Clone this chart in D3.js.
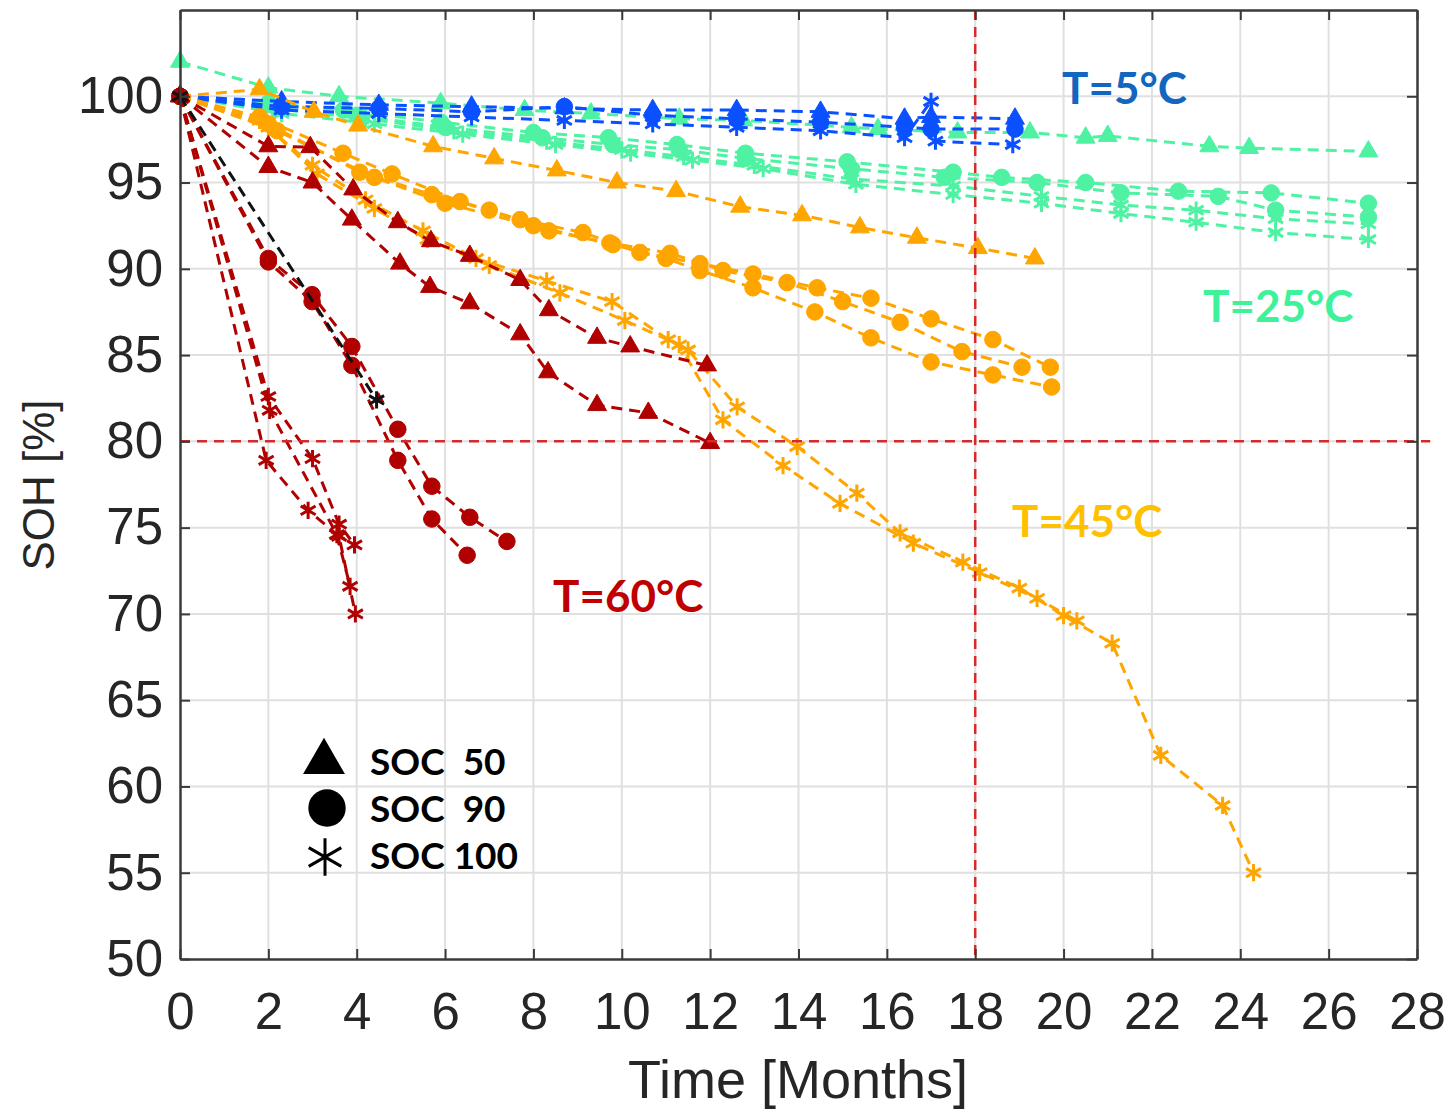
<!DOCTYPE html>
<html><head><meta charset="utf-8">
<script src="https://cdn.jsdelivr.net/npm/d3@7"></script>
<style>body{margin:0;background:#fff}svg{display:block}</style>
</head><body>
<svg id="c" width="1452" height="1113"></svg>
<script>
// ---------- DATA ----------
const xTicks = [0,2,4,6,8,10,12,14,16,18,20,22,24,26,28];
const yTicks = [50,55,60,65,70,75,80,85,90,95,100];

// T = 60 °C
const t60s50a = [[0,100],[2.0,97.1],[2.95,97.05],[3.92,94.6],[4.93,92.7],[5.68,91.6],[6.56,90.75],[7.7,89.35],[8.35,87.6],[9.44,86.0],[10.19,85.5],[11.93,84.4]];
const t60s50b = [[0,100],[2.0,95.9],[3.0,95.0],[3.89,92.85],[4.98,90.3],[5.66,88.95],[6.56,88.0],[7.7,86.2],[8.33,84.0],[9.44,82.1],[10.6,81.65],[12.0,79.9]];
const t60s90a = [[0,100],[2.0,90.6],[2.99,88.5],[3.89,85.5],[4.93,80.7],[5.7,77.4],[6.56,75.6],[7.4,74.2]];
const t60s90b = [[0,100],[2.0,90.4],[2.99,88.1],[3.89,84.4],[4.93,78.9],[5.7,75.5],[6.5,73.4]];
const t60s100a = [[0,100],[2.0,82.6],[3.0,79.0],[3.6,75.2],[3.95,74.0]];
const t60s100b = [[0,100],[2.03,81.8],[3.55,74.6],[3.85,71.6]];
const t60s100c = [[0,100],[1.95,78.9],[2.9,76.0],[3.6,74.5],[3.97,70.0]];
const t60fit = [[0,100],[4.45,82.4]];

// T = 45 °C
const t45s50 = [[0,100],[1.8,100.4],[3.03,99.1],[4.03,98.3],[5.73,97.1],[7.11,96.4],[8.53,95.7],[9.89,95.0],[11.23,94.5],[12.68,93.6],[14.08,93.1],[15.39,92.4],[16.68,91.8],[18.06,91.2],[19.35,90.6]];
const t45s90a = [[0,100],[1.8,98.8],[3.69,96.7],[4.8,95.5],[6.34,93.9],[7.7,92.85],[9.12,92.1],[10.41,90.95],[11.77,90.3],[12.97,89.7],[14.42,88.9],[15.64,88.3],[17.0,87.1],[18.4,85.9],[19.7,84.3]];
const t45s90b = [[0,100],[2.0,98.4],[4.07,95.6],[5.7,94.3],[7.0,93.4],[8.35,92.2],[9.73,91.5],[11.09,90.9],[12.29,89.9],[13.74,89.2],[15.0,88.1],[16.3,86.9],[17.7,85.2],[19.06,84.3]];
const t45s90c = [[0,100],[2.2,98.0],[4.4,95.3],[6.0,93.8],[8.0,92.5],[9.8,91.4],[11.0,90.6],[11.77,89.9],[12.97,88.9],[14.37,87.5],[15.64,86.0],[17.0,84.6],[18.4,83.85],[19.73,83.15]];
const t45s100a = [[0,100],[1.8,98.6],[3.0,96.0],[4.2,94.0],[5.5,92.2],[6.7,90.6],[8.3,89.3],[9.78,88.1],[11.05,85.9],[11.5,85.3],[12.61,82.0],[13.97,79.7],[15.32,77.0],[16.3,74.7],[17.72,73.0],[19.0,71.5],[20.0,69.9],[21.1,68.3],[22.2,61.8],[23.6,58.9],[24.3,55.0]];
const t45s100b = [[0,100],[2.0,98.2],[3.1,95.5],[4.4,93.5],[5.6,91.7],[7.0,90.2],[8.6,88.6],[10.07,87.0],[11.3,85.6],[12.29,81.25],[13.65,78.6],[14.94,76.4],[16.6,74.1],[18.1,72.4],[19.4,70.9],[20.3,69.6]];

// T = 25 °C
const t25s50 = [[0,102],[2.0,100.5],[3.6,100.0],[5.9,99.6],[7.8,99.2],[9.3,99.0],[11.3,98.7],[12.75,98.6],[15.2,98.2],[15.8,98.1],[17.6,97.9],[19.24,97.9],[20.5,97.6],[21.0,97.7],[23.3,97.1],[24.2,97.0],[26.9,96.8]];
const t25s90a = [[0,100],[2.0,99.6],[3.7,99.2],[5.9,98.5],[8.0,97.9],[9.7,97.6],[11.25,97.2],[12.8,96.7],[15.1,96.2],[17.5,95.6],[18.6,95.3],[20.5,95.0],[22.6,94.5],[24.7,94.4],[26.9,93.8]];
const t25s90b = [[0,100],[2.2,99.3],[4.0,98.9],[6.0,98.2],[8.2,97.6],[9.8,97.2],[11.3,96.9],[12.8,96.4],[15.2,95.8],[17.3,95.3],[19.4,95.0],[21.3,94.4],[23.5,94.2],[24.8,93.4],[26.9,93.0]];
const t25s100a = [[0,100],[2.1,99.3],[4.2,98.7],[6.2,98.0],[8.3,97.4],[10.0,96.9],[11.4,96.5],[13.0,96.0],[15.2,95.2],[17.5,94.8],[19.5,94.2],[21.3,93.7],[23.0,93.4],[24.8,92.9],[26.9,92.6]];
const t25s100b = [[0,100],[2.3,99.0],[4.4,98.4],[6.4,97.8],[8.5,97.2],[10.2,96.7],[11.6,96.3],[13.2,95.8],[15.3,94.9],[17.5,94.3],[19.5,93.8],[21.3,93.2],[23.0,92.7],[24.8,92.1],[26.9,91.7]];

// T = 5 °C
const t5s50 = [[0,100],[2.3,99.7],[4.5,99.5],[6.6,99.4],[8.7,99.3],[10.7,99.2],[12.6,99.2],[14.5,99.1],[16.4,98.7],[17.0,98.8],[18.9,98.7]];
const t5s90 = [[0,100],[2.3,99.4],[4.5,99.3],[6.6,99.1],[8.7,99.4],[10.7,98.9],[12.6,98.7],[14.5,98.5],[16.4,98.2],[17.0,98.1],[18.9,98.1]];
const t5s100 = [[0,100],[2.3,99.2],[4.5,99.0],[6.6,98.8],[8.7,98.6],[10.7,98.4],[12.6,98.2],[14.5,98.0],[16.4,97.6],[17.0,99.7],[17.1,97.4],[18.85,97.2]];

const refSOH = 80;
const refMonth = 18;
const legendLabels = ["SOC  50","SOC  90","SOC 100"];
const tempLabels = ["T=5°C","T=25°C","T=45°C","T=60°C"];

// ---------- STYLE ----------
const C = {blue:"#0a50ff", green:"#4ef2a2", orange:"#ffa500", red:"#b00000", black:"#111111"};
const series = [
  {d:t25s50,c:C.green,m:"tri"},{d:t25s90a,c:C.green,m:"circ"},{d:t25s90b,c:C.green,m:"circ"},
  {d:t25s100a,c:C.green,m:"ast"},{d:t25s100b,c:C.green,m:"ast"},
  {d:t5s100,c:C.blue,m:"ast"},{d:t5s90,c:C.blue,m:"circ"},{d:t5s50,c:C.blue,m:"tri"},
  {d:t45s50,c:C.orange,m:"tri"},{d:t45s90a,c:C.orange,m:"circ"},{d:t45s90b,c:C.orange,m:"circ"},{d:t45s90c,c:C.orange,m:"circ"},
  {d:t45s100a,c:C.orange,m:"ast"},{d:t45s100b,c:C.orange,m:"ast"},
  {d:t60s50a,c:C.red,m:"tri"},{d:t60s50b,c:C.red,m:"tri"},{d:t60s90a,c:C.red,m:"circ"},{d:t60s90b,c:C.red,m:"circ"},
  {d:t60s100a,c:C.red,m:"ast"},{d:t60s100b,c:C.red,m:"ast"},{d:t60s100c,c:C.red,m:"ast"},
  {d:t60fit,c:C.black,m:"ast"}
];

const L=180,T=10,R=1417,B=959;
const x=d3.scaleLinear().domain([0,28]).range([L,R]);
const y=d3.scaleLinear().domain([50,105]).range([B,T]);
const svg=d3.select("#c");
const tickFont="'Liberation Sans', Arial, sans-serif";
const axisCol="#3a3a3a";

// grid
const grid=svg.append("g");
grid.selectAll("line.v").data(xTicks.slice(1,-1)).join("line")
  .attr("x1",d=>x(d)).attr("x2",d=>x(d)).attr("y1",T).attr("y2",B)
  .attr("stroke","#e0e0e0").attr("stroke-width",2);
grid.selectAll("line.h").data(yTicks.slice(1)).join("line")
  .attr("x1",L).attr("x2",R).attr("y1",d=>y(d)).attr("y2",d=>y(d))
  .attr("stroke","#e0e0e0").attr("stroke-width",2);

// data
const line=d3.line().x(d=>x(d[0])).y(d=>y(d[1]));
const symT=d3.symbol().type(d3.symbolTriangle).size(155);
const symC=d3.symbol().type(d3.symbolCircle).size(215);
const symA=d3.symbol().type(d3.symbolAsterisk).size(210);
const gData=svg.append("g");
series.forEach(s=>{
  const g=gData.append("g");
  g.append("path").attr("d",line(s.d)).attr("fill","none").attr("stroke",s.c)
   .attr("stroke-width",3).attr("stroke-dasharray","11,7");
  g.selectAll("path.mk").data(s.d).join("path").attr("class","mk")
   .attr("transform",d=>`translate(${x(d[0])},${y(d[1])})`)
   .attr("d",s.m==="tri"?symT():s.m==="circ"?symC():symA())
   .attr("fill",s.m==="ast"?"none":s.c)
   .attr("stroke",s.c).attr("stroke-width",s.m==="ast"?3:1);
});

// reference lines
svg.append("line").attr("x1",x(0)).attr("x2",x(28.3)).attr("y1",y(refSOH)).attr("y2",y(refSOH))
  .attr("stroke","#d42a2a").attr("stroke-width",2.5).attr("stroke-dasharray","10,7");
svg.append("line").attr("x1",x(refMonth)).attr("x2",x(refMonth)).attr("y1",y(105)).attr("y2",y(50))
  .attr("stroke","#d42a2a").attr("stroke-width",2.5).attr("stroke-dasharray","10,7");

// axes
const ax=svg.append("g").attr("transform",`translate(0,${B})`)
  .call(d3.axisBottom(x).tickValues(xTicks).tickSizeInner(-10).tickSizeOuter(0).tickPadding(34));
const ay=svg.append("g").attr("transform",`translate(${L},0)`)
  .call(d3.axisLeft(y).tickValues(yTicks).tickSizeInner(-10).tickSizeOuter(0).tickPadding(17));
const axT=svg.append("g").attr("transform",`translate(0,${T})`)
  .call(d3.axisTop(x).tickValues(xTicks).tickSizeInner(-10).tickSizeOuter(0).tickFormat(""));
const ayR=svg.append("g").attr("transform",`translate(${R},0)`)
  .call(d3.axisRight(y).tickValues(yTicks).tickSizeInner(-10).tickSizeOuter(0).tickFormat(""));
[ax,ay,axT,ayR].forEach(a=>{
  a.select(".domain").attr("stroke",axisCol).attr("stroke-width",2.5);
  a.selectAll(".tick line").attr("stroke",axisCol).attr("stroke-width",2);
  a.selectAll("text").attr("font-family",tickFont).attr("font-size",51).attr("fill","#262626");
});
ax.selectAll("text").attr("dy","0.71em");

svg.append("text").attr("x",798).attr("y",1098).attr("text-anchor","middle")
  .attr("font-family",tickFont).attr("font-size",54).attr("fill","#262626").text("Time [Months]");
svg.append("text").attr("transform","translate(54,485) rotate(-90)").attr("text-anchor","middle")
  .attr("font-family",tickFont).attr("font-size",44).attr("fill","#262626").text("SOH [%]");

// temperature labels
const lblFont="Lato, 'Open Sans', sans-serif";
const tl=[{t:tempLabels[0],x:1062,y:104,c:"#1366bf"},{t:tempLabels[1],x:1203,y:322,c:"#3ef29a"},
          {t:tempLabels[2],x:1012,y:537,c:"#ffc000"},{t:tempLabels[3],x:553,y:612,c:"#c00000"}];
svg.selectAll("text.tl").data(tl).join("text").attr("class","tl")
  .attr("x",d=>d.x).attr("y",d=>d.y).attr("fill",d=>d.c)
  .attr("font-family",lblFont).attr("font-weight","bold").attr("font-size",44).text(d=>d.t);

// legend
const lg=svg.append("g");
lg.append("path").attr("transform","translate(324,762)").attr("d",d3.symbol().type(d3.symbolTriangle).size(760)()).attr("fill","#000");
lg.append("path").attr("transform","translate(327,808)").attr("d",d3.symbol().type(d3.symbolCircle).size(1100)()).attr("fill","#000");
lg.append("path").attr("transform","translate(325,857)").attr("d",d3.symbol().type(d3.symbolAsterisk).size(1000)()).attr("fill","none").attr("stroke","#000").attr("stroke-width",3);
[775,822,869].forEach((yy,i)=>{
  lg.append("text").attr("x",370).attr("y",yy).attr("font-family",lblFont).attr("font-weight","bold")
    .attr("font-size",37).attr("fill","#000").style("white-space","pre").text(legendLabels[i]);
});
</script>
</body></html>
